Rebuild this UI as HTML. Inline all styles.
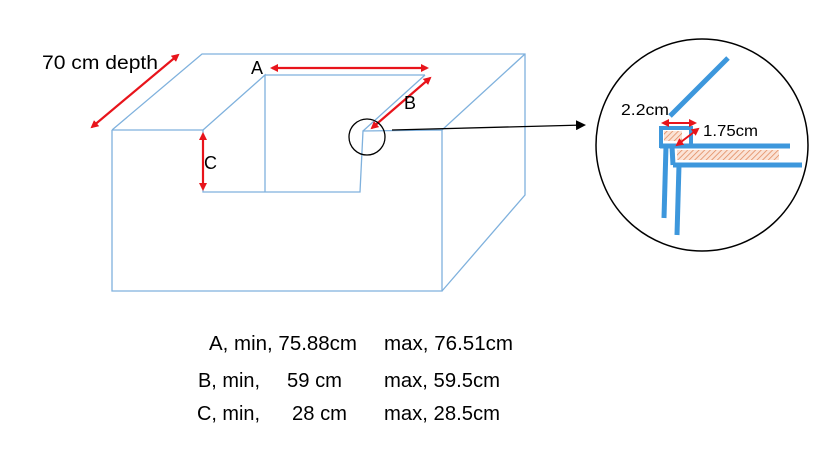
<!DOCTYPE html>
<html><head><meta charset="utf-8"><style>
body{margin:0;background:#fff;width:840px;height:452px;overflow:hidden;font-family:"Liberation Sans",sans-serif}
</style></head><body>
<svg width="840" height="452" viewBox="0 0 840 452">
<defs>
<marker id="r" markerWidth="8" markerHeight="8" refX="6" refY="4" orient="auto-start-reverse" markerUnits="userSpaceOnUse"><path d="M0,0 L8,4 L0,8 z" fill="#e8141b"/></marker>
<marker id="k" markerWidth="10" markerHeight="10" refX="8" refY="5" orient="auto" markerUnits="userSpaceOnUse"><path d="M0,0 L10,5 L0,10 z" fill="#000"/></marker>
<pattern id="h" width="4" height="4" patternUnits="userSpaceOnUse" patternTransform="rotate(45)"><rect width="4" height="4" fill="#fbe3d6"/><line x1="0" y1="0" x2="0" y2="4" stroke="#e0875a" stroke-width="1.5"/></pattern>
</defs>
<g fill="none" stroke="#7fb1dd" stroke-width="1.3">
<path d="M112,130 L112,291 L442,291 L442,130 L363,131 L360,192 L203,192 L203,130 L112,130"/>
<path d="M112,130 L202,54 L525,54 L525,195 L442,291"/>
<path d="M442,130 L525,54"/>
<path d="M203,130 L265,75 L265,192"/>
<path d="M265,75 L425,75"/>
<path d="M363,131 L425,75"/>
</g>
<g stroke="#e8141b" stroke-width="2.2" fill="none">
<line x1="92" y1="127" x2="178" y2="55" marker-start="url(#r)" marker-end="url(#r)"/>
<line x1="272" y1="68" x2="427" y2="68" marker-start="url(#r)" marker-end="url(#r)"/>
<line x1="372" y1="128" x2="430" y2="78" marker-start="url(#r)" marker-end="url(#r)"/>
<line x1="203" y1="134" x2="203" y2="189" marker-start="url(#r)" marker-end="url(#r)"/>
</g>
<circle cx="367" cy="137" r="18" fill="none" stroke="#000" stroke-width="1.3"/>
<line x1="392" y1="130" x2="584" y2="125" stroke="#000" stroke-width="1.3" marker-end="url(#k)"/>
<circle cx="702" cy="145" r="106" fill="none" stroke="#000" stroke-width="1.5"/>
<g stroke="#3d97dc" stroke-width="5" fill="none" stroke-linecap="butt">
<line x1="670" y1="116" x2="728" y2="58"/>
<rect x="661" y="128" width="30" height="18" stroke-width="4"/>
<line x1="660" y1="146" x2="790" y2="146"/>
<line x1="673" y1="165" x2="802" y2="165"/>
<line x1="666" y1="146" x2="664" y2="218"/>
<line x1="679" y1="165" x2="677" y2="235"/>
<line x1="672" y1="146" x2="673" y2="165"/>
</g>
<rect x="664" y="131" width="18" height="10" fill="url(#h)"/>
<rect x="677" y="150" width="102" height="10" fill="url(#h)"/>
<g stroke="#e8141b" stroke-width="2" fill="none">
<line x1="663" y1="123" x2="695" y2="123" marker-start="url(#r)" marker-end="url(#r)"/>
<line x1="677" y1="145" x2="698" y2="129" marker-start="url(#r)" marker-end="url(#r)"/>
</g>
<g font-family="Liberation Sans, sans-serif" fill="#000">
<text x="42" y="69" font-size="19" textLength="116" lengthAdjust="spacingAndGlyphs">70 cm depth</text>
<text x="251" y="74" font-size="18">A</text>
<text x="404" y="109" font-size="18">B</text>
<text x="204" y="169" font-size="18">C</text>
<text x="621" y="115" font-size="16" textLength="48" lengthAdjust="spacingAndGlyphs">2.2cm</text>
<text x="703" y="136" font-size="16" textLength="55" lengthAdjust="spacingAndGlyphs">1.75cm</text>
<g font-size="20" lengthAdjust="spacingAndGlyphs">
<text x="209" y="350" textLength="148" lengthAdjust="spacingAndGlyphs">A, min, 75.88cm</text><text x="384" y="350" textLength="129" lengthAdjust="spacingAndGlyphs">max, 76.51cm</text>
<text x="198" y="387" textLength="62" lengthAdjust="spacingAndGlyphs">B, min,</text><text x="287" y="387" textLength="55" lengthAdjust="spacingAndGlyphs">59 cm</text><text x="384" y="387" textLength="116" lengthAdjust="spacingAndGlyphs">max, 59.5cm</text>
<text x="197" y="420" textLength="63" lengthAdjust="spacingAndGlyphs">C, min,</text><text x="292" y="420" textLength="55" lengthAdjust="spacingAndGlyphs">28 cm</text><text x="384" y="420" textLength="116" lengthAdjust="spacingAndGlyphs">max, 28.5cm</text>
</g>
</g>
</svg>
</body></html>
